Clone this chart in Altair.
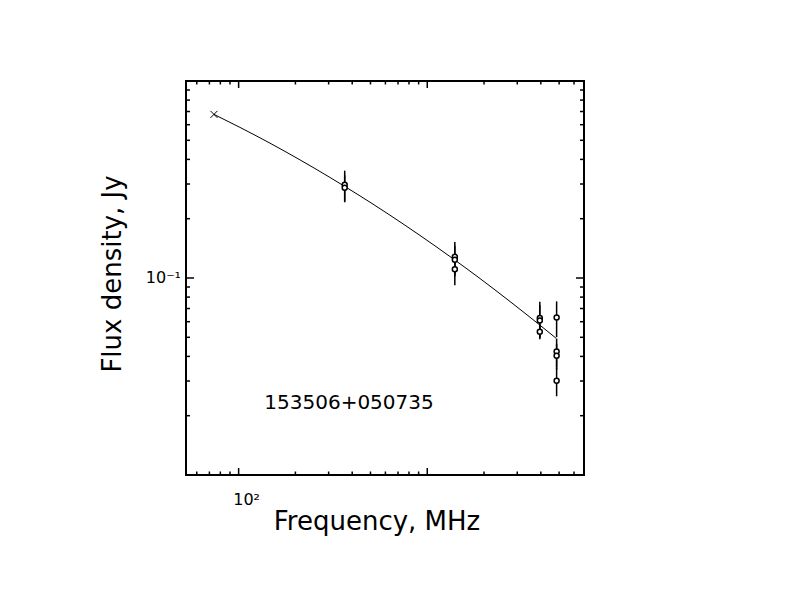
import altair as alt
import pandas as pd

# fitted spectrum curve
curve_freq = [74.0, 101.6, 146.6, 211.4, 304.8, 439.7, 634.2, 914.8, 1319.5, 1903, 2745, 3959, 4813]
curve_flux = [0.6768, 0.5816, 0.4836, 0.3979, 0.3240, 0.2612, 0.2084, 0.1645, 0.1285, 0.0994, 0.0760, 0.0576, 0.0495]

# measurements with error bars
meas_freq = [365, 365, 1400, 1400, 1400, 3950, 3950, 3950, 4850, 4850, 4850, 4850]
meas_flux = [0.2976, 0.2873, 0.1283, 0.1239, 0.1108, 0.0627, 0.0609, 0.0534, 0.0631, 0.0423, 0.0403, 0.0301]
meas_err = [0.053, 0.045, 0.024, 0.022, 0.019, 0.013, 0.012, 0.004, 0.013, 0.007, 0.006, 0.005]

# low-frequency point (cross)
cross_freq = [74]
cross_flux = [0.677]

# axis ticks and labels
x_major_ticks = [100, 1000]
x_minor_ticks = [60, 70, 80, 90, 200, 300, 400, 500, 600, 700, 800, 900,
                 2000, 3000, 4000, 5000, 6000]
y_major_ticks = [0.1]
y_minor_ticks = [0.02, 0.03, 0.04, 0.05, 0.06, 0.07, 0.08, 0.09,
                 0.2, 0.3, 0.4, 0.5, 0.6, 0.7, 0.8, 0.9]
x_label_vals = [100]
x_label_text = ["10²"]
y_label_vals = [0.1]
y_label_text = ["10⁻¹"]
source_name = "153506+050735"

W, H = 398, 394
FONT = "DejaVu Sans"

xs = alt.Scale(type="log", domain=[52.6, 6775])
ys = alt.Scale(type="log", domain=[0.01, 1.0])

curve_df = pd.DataFrame({"f": curve_freq, "s": curve_flux})
meas_df = pd.DataFrame({"f": meas_freq, "s": meas_flux, "e": meas_err})
meas_df["lo"] = meas_df["s"] - meas_df["e"]
meas_df["hi"] = meas_df["s"] + meas_df["e"]
cross_df = pd.DataFrame({"f": cross_freq, "s": cross_flux})

curve = alt.Chart(curve_df).mark_line(color="black", strokeWidth=1, interpolate="monotone").encode(
    x=alt.X("f:Q", scale=xs, axis=None),
    y=alt.Y("s:Q", scale=ys, axis=None),
)

errbars = alt.Chart(meas_df).mark_rule(color="black", strokeWidth=1.5).encode(
    x=alt.X("f:Q", scale=xs, axis=None),
    y=alt.Y("lo:Q", scale=ys, axis=None),
    y2="hi:Q",
)

points = alt.Chart(meas_df).mark_point(
    shape="circle", size=25, filled=False, fill="white", fillOpacity=1,
    stroke="black", strokeWidth=1.5, opacity=1
).encode(
    x=alt.X("f:Q", scale=xs, axis=None),
    y=alt.Y("s:Q", scale=ys, axis=None),
)

cross = alt.Chart(cross_df).mark_point(
    shape="M-1,-1L1,1M-1,1L1,-1", size=49, filled=False,
    stroke="black", strokeWidth=1, opacity=1
).encode(
    x=alt.X("f:Q", scale=xs, axis=None),
    y=alt.Y("s:Q", scale=ys, axis=None),
)

def xticks(vals, length):
    df = pd.DataFrame({"t": vals})
    bottom = alt.Chart(df).mark_rule(color="black", strokeWidth=1.5).encode(
        x=alt.X("t:Q", scale=xs, axis=None),
        y=alt.value(H), y2=alt.value(H - length),
    )
    top = alt.Chart(df).mark_rule(color="black", strokeWidth=1.5).encode(
        x=alt.X("t:Q", scale=xs, axis=None),
        y=alt.value(0), y2=alt.value(length),
    )
    return [bottom, top]

def yticks(vals, length):
    df = pd.DataFrame({"t": vals})
    left = alt.Chart(df).mark_rule(color="black", strokeWidth=1.5).encode(
        y=alt.Y("t:Q", scale=ys, axis=None),
        x=alt.value(0), x2=alt.value(length),
    )
    right = alt.Chart(df).mark_rule(color="black", strokeWidth=1.5).encode(
        y=alt.Y("t:Q", scale=ys, axis=None),
        x=alt.value(W), x2=alt.value(W - length),
    )
    return [left, right]

tick_layers = (xticks(x_major_ticks, 7) + xticks(x_minor_ticks, 3.5)
               + yticks(y_major_ticks, 8) + yticks(y_minor_ticks, 4))

xlab = alt.Chart(pd.DataFrame({"f": x_label_vals, "t": x_label_text})).mark_text(
    font=FONT, fontSize=16, align="center", baseline="middle", dx=8, color="black"
).encode(
    x=alt.X("f:Q", scale=xs, axis=None),
    y=alt.value(419),
    text="t:N",
)

ylab = alt.Chart(pd.DataFrame({"s": y_label_vals, "t": y_label_text})).mark_text(
    font=FONT, fontSize=16, align="right", baseline="middle", color="black"
).encode(
    y=alt.Y("s:Q", scale=ys, axis=None),
    x=alt.value(-5),
    text="t:N",
)

xtitle = alt.Chart(pd.DataFrame({"t": ["Frequency, MHz"]})).mark_text(
    font=FONT, fontSize=26, align="center", baseline="middle", color="black"
).encode(x=alt.value(191), y=alt.value(441), text="t:N")

ytitle = alt.Chart(pd.DataFrame({"t": ["Flux density, Jy"]})).mark_text(
    font=FONT, fontSize=26, align="center", baseline="middle", angle=270, color="black"
).encode(x=alt.value(-73), y=alt.value(193), text="t:N")

name = alt.Chart(pd.DataFrame({"t": [source_name]})).mark_text(
    font=FONT, fontSize=20, align="center", baseline="middle", color="black"
).encode(x=alt.value(163), y=alt.value(322), text="t:N")

chart = alt.layer(
    curve, errbars, points, cross, *tick_layers, xlab, ylab, xtitle, ytitle, name
).properties(
    width=W, height=H,
    autosize=alt.AutoSizeParams(type="none"),
    padding={"left": 178, "top": 73, "right": 200, "bottom": 130},
).configure(
    background="white",
    view=alt.ViewConfig(stroke="black", strokeWidth=2),
)

chart.save("out.html", embed_options={"renderer": "svg", "actions": False})
